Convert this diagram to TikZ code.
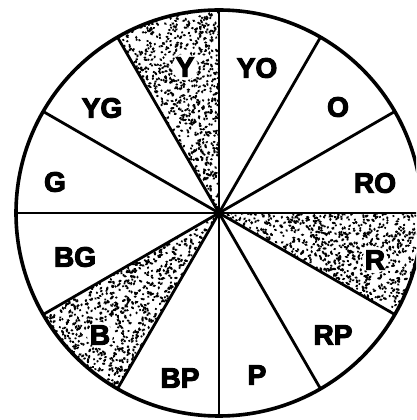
\documentclass[tikz,border=0pt]{standalone}
\usepackage{fontspec}
\setmainfont{Liberation Sans}
\newfontfamily\heavyfont{Liberation Sans}[BoldFeatures={FakeBold=4}]
\begin{document}
\begin{tikzpicture}[x=1pt,y=1pt,
  lbl/.style={font=\heavyfont\bfseries\fontsize{28}{28}\selectfont, inner sep=0pt},
  rim/.style={line width=3.6pt},
  spoke/.style={line width=2.8pt},
  stipple/.style={fill=black}]
\useasboundingbox (0,0) rectangle (416,420);
\clip (0,0) rectangle (416,420);
\coordinate (c) at (219,207);
\def\R{203}
\pgfmathsetseed{7}
\foreach \a/\lx/\ly in {-30/375/160, 90/185/353, 210/100/85}{
  \begin{scope}
    \clip (c) -- ++(\a:\R) arc[start angle=\a, end angle=\a+30, radius=\R] -- cycle;
    \begin{scope}[even odd rule]
    \clip (-10,-10) rectangle (430,430) (\lx,\ly) ellipse[x radius=13, y radius=13.5];
    \foreach \i in {1,...,700}{
      \pgfmathsetmacro\rr{\R*sqrt(rnd)}
      \pgfmathsetmacro\tt{\a+30*rnd}
      \pgfmathsetmacro\ww{1.2+0.9*rnd}
      \fill[stipple, shift={(c)}] (\tt:\rr) ellipse[x radius=\ww, y radius=1.2, rotate=180*rnd];
    }
    \end{scope}
  \end{scope}
}
\draw[rim] (c) circle (\R);
\foreach \a in {0,30,...,330}{
  \draw[spoke] (c) -- ++(\a:\R);
}
\node[lbl] (y)  at (185,353) {Y};
\node[lbl] (yo) at (257,352) {YO};
\node[lbl] (o)  at (338,313) {O};
\node[lbl] (ro) at (375,237) {RO};
\node[lbl] (r)  at (375,160) {R};
\node[lbl] (rp) at (333,85)  {RP};
\node[lbl] (p)  at (257,45)  {P};
\node[lbl] (bp) at (180,42)  {BP};
\node[lbl] (b)  at (100,85)  {B};
\node[lbl] (bg) at (75,163)  {BG};
\node[lbl] (g)  at (55,238)  {G};
\node[lbl] (yg) at (102,312) {YG};
\end{tikzpicture}
\end{document}
